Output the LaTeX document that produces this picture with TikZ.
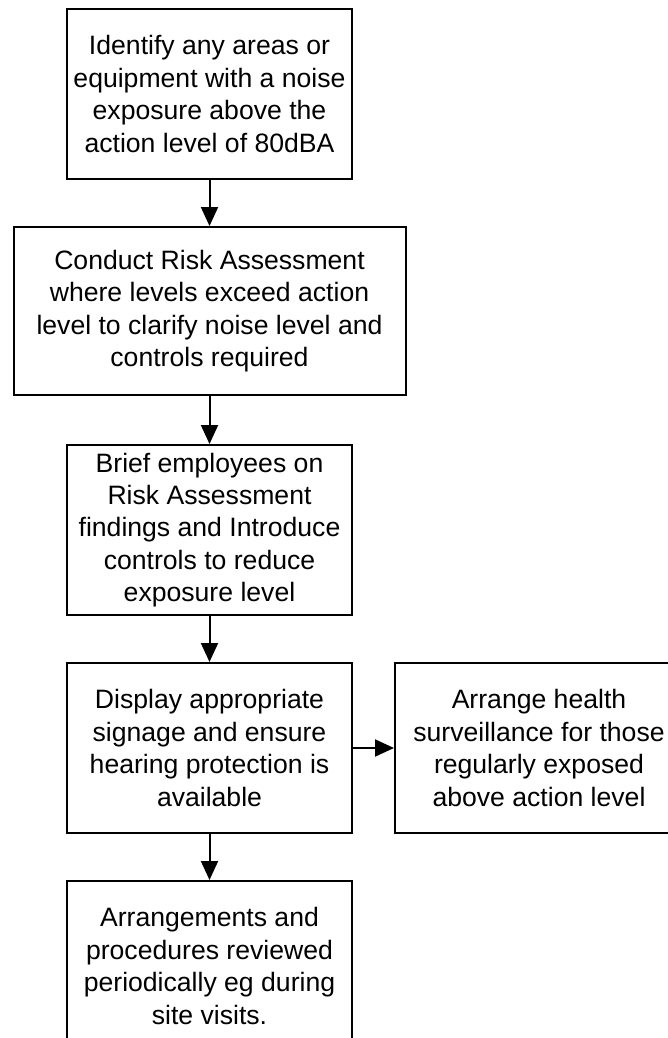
\documentclass[tikz,border=0pt]{standalone}
\usepackage{fontspec}
\setmainfont{Liberation Sans}
\usepackage{tikz}
\usetikzlibrary{positioning,arrows.meta}
\tikzset{
  stepbox/.style = {draw, line width=1pt, align=center, inner sep=2pt,
                    font=\fontsize{13.3}{16.2}\selectfont,
                    minimum width=142.5pt, minimum height=85pt},
  widebox/.style = {stepbox, minimum width=196pt, minimum height=84pt},
  flow/.style    = {-{Triangle[length=9.5pt,width=8.5pt]}, line width=1pt},
}

\begin{document}
\begin{tikzpicture}
  \useasboundingbox (0,0) rectangle (334pt,-519pt);
  \node[stepbox] (identify) at (104.75pt,-47pt) {Identify any areas or\\
    equipment with a noise\\ exposure above the\\ action level of 80dBA};
  \node[widebox, below=23pt of identify] (assess) {Conduct Risk Assessment\\
    where levels exceed action\\ level to clarify noise level and\\ controls required};
  \node[stepbox, below=24pt of assess] (brief) {Brief employees on\\
    Risk Assessment\\ findings and Introduce\\ controls to reduce\\ exposure level};
  \node[stepbox, below=23pt of brief] (signage) {Display appropriate\\
    signage and ensure\\ hearing protection is\\ available};
  \node[stepbox, minimum width=144pt, right=20.5pt of signage] (health) {Arrange health\\
    surveillance for those\\ regularly exposed\\ above action level};
  \node[stepbox, below=23pt of signage] (review) {Arrangements and\\
    procedures reviewed\\ periodically eg during\\ site visits.};
  \draw[flow] (identify) -- (assess);
  \draw[flow] (assess) -- (brief);
  \draw[flow] (brief) -- (signage);
  \draw[flow] (signage) -- (health);
  \draw[flow] (signage) -- (review);
\end{tikzpicture}
\end{document}
